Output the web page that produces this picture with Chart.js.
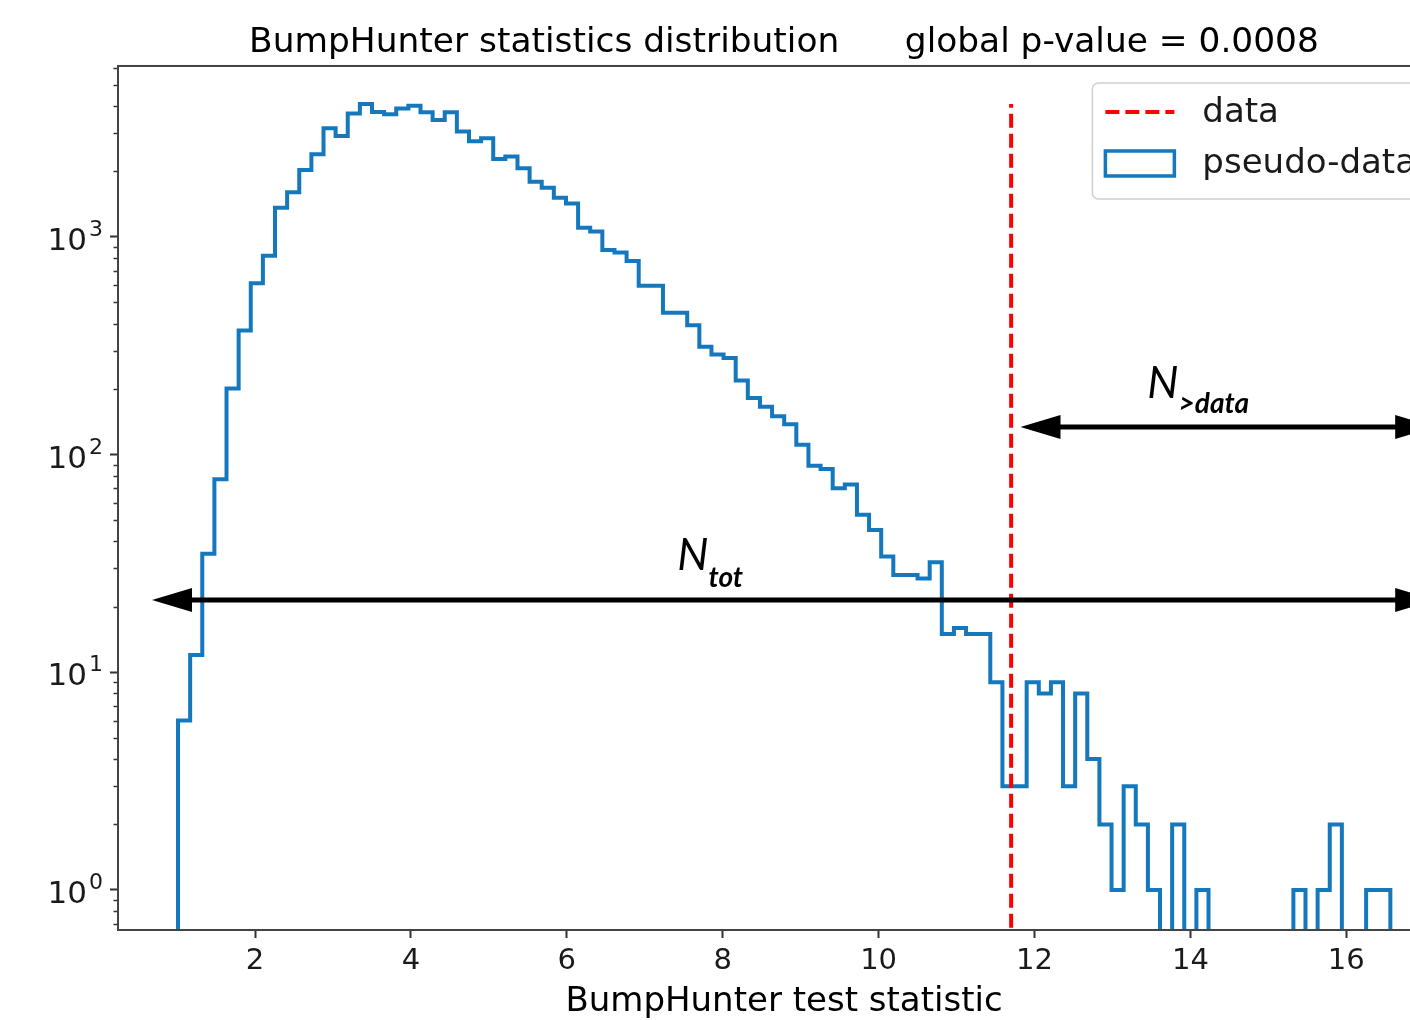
<!DOCTYPE html>
<html>
<head>
<meta charset="utf-8">
<script src="https://cdn.jsdelivr.net/npm/chart.js@4/dist/chart.umd.min.js"></script>
<style>
html, body { margin: 0; padding: 0; background: #ffffff; overflow: hidden; }
#wrap { position: relative; width: 1568px; height: 1020px; }
</style>
</head>
<body>
<div id="wrap"><canvas id="c" width="1568" height="1020"></canvas></div>
<script>
// ---------------- data ----------------
const binLow = 1.0125;     // first bin edge of the pseudo-data histogram
const binHigh = 16.565;    // last bin edge
const binCounts = [
  6, 12, 35, 77, 201, 372, 612, 820, 1362, 1605,
  2030, 2400, 3160, 2910, 3690, 4075, 3745, 3665, 3890, 4005,
  3740, 3445, 3740, 3050, 2750, 2840, 2280, 2340, 2070, 1795,
  1682, 1515, 1425, 1102, 1058, 872, 848, 775, 596, 596,
  449, 449, 393, 313, 288, 278, 219, 182, 166, 150,
  138, 111, 89, 86, 70, 73, 53, 45, 34, 28,
  28, 27, 32, 15, 16, 15, 15, 9, 3, 3,
  9, 8, 9, 3, 8, 4, 2, 1, 3, 2,
  1, 0, 2, 0, 1, 0, 0, 0, 0, 0,
  0, 0, 1, 0, 1, 2, 0, 0, 1, 1
];
const dataStatistic = 11.70;              // observed test statistic
const xTicks = [2, 4, 6, 8, 10, 12, 14, 16];
const yTicks = [1, 10, 100, 1000];
const xRange = [0.2425, 17.33];
const yRange = [0.655, 6100];
const titleText = 'BumpHunter statistics distribution      global p-value = 0.0008';
const xLabel = 'BumpHunter test statistic';
const seriesLabels = ['data', 'pseudo-data'];
// annotation arrows: [x from, x to, y]
const arrowNtot = [0.679, 17.14, 21.5];
const arrowNdata = [11.82, 17.14, 134];
// annotation labels: [x, y, main, subscript]
const labelNtot = [7.416, 29.5, 'N', 'tot'];
const labelNdata = [13.447, 182, 'N', '>data'];

// ---------------- styles ----------------
const FONT = "'DejaVu Sans', sans-serif";
const BLUE = '#1578bd';
const RED = '#ff0000';

// histogram outline built from bin edges and counts
const nBins = binCounts.length;
const binWidth = (binHigh - binLow) / nBins;
const edges = binCounts.map((_, i) => binLow + i * binWidth).concat([binHigh]);
const below = yRange[0] / 10; // empty bins fall below the log axis (clipped)
const histPoints = [{x: edges[0], y: below}];
binCounts.forEach((c, i) => {
  const v = c > 0 ? c : below;
  histPoints.push({x: edges[i], y: v}, {x: edges[i + 1], y: v});
});
histPoints.push({x: edges[nBins], y: below});
const dataLine = [{x: dataStatistic, y: below}, {x: dataStatistic, y: Math.max(...binCounts)}];

// ---------------- plugins ----------------
const framePlugin = {
  id: 'frame',
  afterDatasetsDraw(chart) {
    const {ctx, chartArea: a, scales: {x, y}} = chart;
    ctx.save();
    // minor log ticks
    ctx.strokeStyle = '#333';
    ctx.lineWidth = 1.5;
    for (let e = -1; e <= 4; e++) {
      for (let m = 2; m <= 9; m++) {
        const v = m * Math.pow(10, e);
        if (v < yRange[0] || v > yRange[1]) continue;
        const py = Math.round(y.getPixelForValue(v)) + 0.5;
        ctx.beginPath(); ctx.moveTo(a.left, py); ctx.lineTo(a.left - 4.5, py); ctx.stroke();
      }
    }
    // y tick labels: 10 with superscript exponent
    ctx.fillStyle = '#1a1a1a';
    ctx.textBaseline = 'alphabetic';
    yTicks.forEach(v => {
      const py = y.getPixelForValue(v);
      const exp = String(Math.round(Math.log10(v)));
      ctx.font = '22px ' + FONT;
      const we = ctx.measureText(exp).width;
      ctx.font = '31px ' + FONT;
      const wb = ctx.measureText('10').width;
      const right = a.left - 15;
      ctx.textAlign = 'left';
      ctx.fillText('10', right - we - 2 - wb, py + 13);
      ctx.font = '22px ' + FONT;
      ctx.fillText(exp, right - we, py - 1);
    });
    // arrows
    const drawArrow = (arr) => {
      const x0 = x.getPixelForValue(arr[0]), x1 = x.getPixelForValue(arr[1]);
      const py = y.getPixelForValue(arr[2]);
      const hl = 40, hw = 12;
      ctx.strokeStyle = '#000'; ctx.fillStyle = '#000'; ctx.lineWidth = 5;
      ctx.beginPath(); ctx.moveTo(x0 + hl - 2, py); ctx.lineTo(x1 - hl + 2, py); ctx.stroke();
      ctx.beginPath(); ctx.moveTo(x0, py); ctx.lineTo(x0 + hl, py - hw); ctx.lineTo(x0 + hl, py + hw); ctx.closePath(); ctx.fill();
      ctx.beginPath(); ctx.moveTo(x1, py); ctx.lineTo(x1 - hl, py - hw); ctx.lineTo(x1 - hl, py + hw); ctx.closePath(); ctx.fill();
    };
    drawArrow(arrowNtot);
    drawArrow(arrowNdata);
    const drawLabel = (lab, subDy) => {
      const px = x.getPixelForValue(lab[0]), py = y.getPixelForValue(lab[1]);
      ctx.fillStyle = '#000';
      ctx.textAlign = 'left'; ctx.textBaseline = 'alphabetic';
      ctx.font = "italic 44px Lato, 'Liberation Sans', sans-serif";
      ctx.fillText(lab[2], px, py);
      const w = ctx.measureText(lab[2]).width;
      ctx.font = "italic bold 28px Lato, 'Liberation Sans', sans-serif";
      ctx.fillText(lab[3], px + w, py + subDy);
    };
    drawLabel(labelNtot, 17);
    drawLabel(labelNdata, 15);
    // spines
    ctx.strokeStyle = '#444';
    ctx.lineWidth = 2;
    ctx.strokeRect(a.left, a.top, a.right - a.left, a.bottom - a.top);
    ctx.restore();
  },
  afterDraw(chart) {
    const {ctx, chartArea: a} = chart;
    const ds = chart.data.datasets;
    ctx.save();
    ctx.font = '34px ' + FONT;
    const tw = Math.max(...ds.map(d => ctx.measureText(d.label).width));
    const padL = 13, padR = 20, handle = 69, gap = 28;
    const right = a.right - 14;
    const w = padL + handle + gap + tw + padR;
    const left = right - w, top = a.top + 17, h = 116;
    // box
    ctx.beginPath();
    ctx.roundRect(left, top, w, h, 6);
    ctx.fillStyle = 'rgba(255,255,255,0.8)';
    ctx.fill();
    ctx.strokeStyle = '#d0d0d0'; ctx.lineWidth = 1.5; ctx.stroke();
    const rows = [top + 29, top + 80];
    ds.forEach((d, i) => {
      const ry = rows[i];
      const hx = left + padL;
      if (d.legendKind === 'line') {
        ctx.strokeStyle = d.borderColor; ctx.lineWidth = d.borderWidth;
        ctx.setLineDash(d.borderDash || []);
        ctx.beginPath(); ctx.moveTo(hx, ry); ctx.lineTo(hx + handle, ry); ctx.stroke();
        ctx.setLineDash([]);
      } else {
        ctx.strokeStyle = d.borderColor; ctx.lineWidth = 3.5;
        ctx.strokeRect(hx, ry - 12, handle, 25);
      }
      ctx.fillStyle = '#1a1a1a';
      ctx.textAlign = 'left'; ctx.textBaseline = 'middle';
      ctx.fillText(d.label, hx + handle + gap, ry + 1);
    });
    ctx.restore();
  }
};

// ---------------- chart ----------------
new Chart(document.getElementById('c'), {
  type: 'line',
  data: {
    datasets: [
      {
        label: seriesLabels[0], legendKind: 'line', data: dataLine,
        borderColor: RED, borderWidth: 4, borderDash: [14, 6],
        pointRadius: 0, fill: false, clip: 0, order: 0
      },
      {
        label: seriesLabels[1], legendKind: 'box', data: histPoints,
        borderColor: BLUE, borderWidth: 4, borderJoinStyle: 'miter', borderCapStyle: 'butt',
        pointRadius: 0, fill: false, tension: 0, clip: 0, order: 1
      }
    ]
  },
  options: {
    responsive: false,
    devicePixelRatio: 1,
    animation: false,
    events: [],
    layout: { padding: 0 },
    plugins: {
      legend: { display: false },
      tooltip: { enabled: false },
      title: {
        display: true, text: titleText, color: '#000',
        font: { family: FONT, size: 34.4, weight: 'normal', lineHeight: 1.2 },
        padding: { top: 22.4, bottom: 2.3 }
      }
    },
    scales: {
      x: {
        type: 'linear', min: xRange[0], max: xRange[1],
        afterBuildTicks: (s) => { s.ticks = xTicks.map(v => ({ value: v })); },
        afterFit: (s) => { s.height = 90; },
        grid: { display: true, drawOnChartArea: false, drawTicks: true, tickLength: 8, tickWidth: 2, tickColor: '#333' },
        border: { display: false },
        ticks: { color: '#1a1a1a', font: { family: FONT, size: 29 }, padding: 6, maxRotation: 0, autoSkip: false,
                 callback: (v) => String(v) },
        title: { display: true, text: xLabel, color: '#000',
                 font: { family: FONT, size: 34, lineHeight: 1 }, padding: { top: 0, bottom: 0.5 } }
      },
      y: {
        type: 'logarithmic', min: yRange[0], max: yRange[1],
        afterBuildTicks: (s) => { s.ticks = yTicks.map(v => ({ value: v })); },
        afterFit: (s) => { s.width = 118; },
        grid: { display: true, drawOnChartArea: false, drawTicks: true, tickLength: 8, tickWidth: 2, tickColor: '#333' },
        border: { display: false },
        ticks: { display: false }
      },
      yRight: {
        type: 'linear', position: 'right', display: true,
        afterFit: (s) => { s.width = 118; },
        grid: { display: false, drawTicks: false },
        border: { display: false },
        ticks: { display: false }
      }
    }
  },
  plugins: [framePlugin]
});
</script>
</body>
</html>
